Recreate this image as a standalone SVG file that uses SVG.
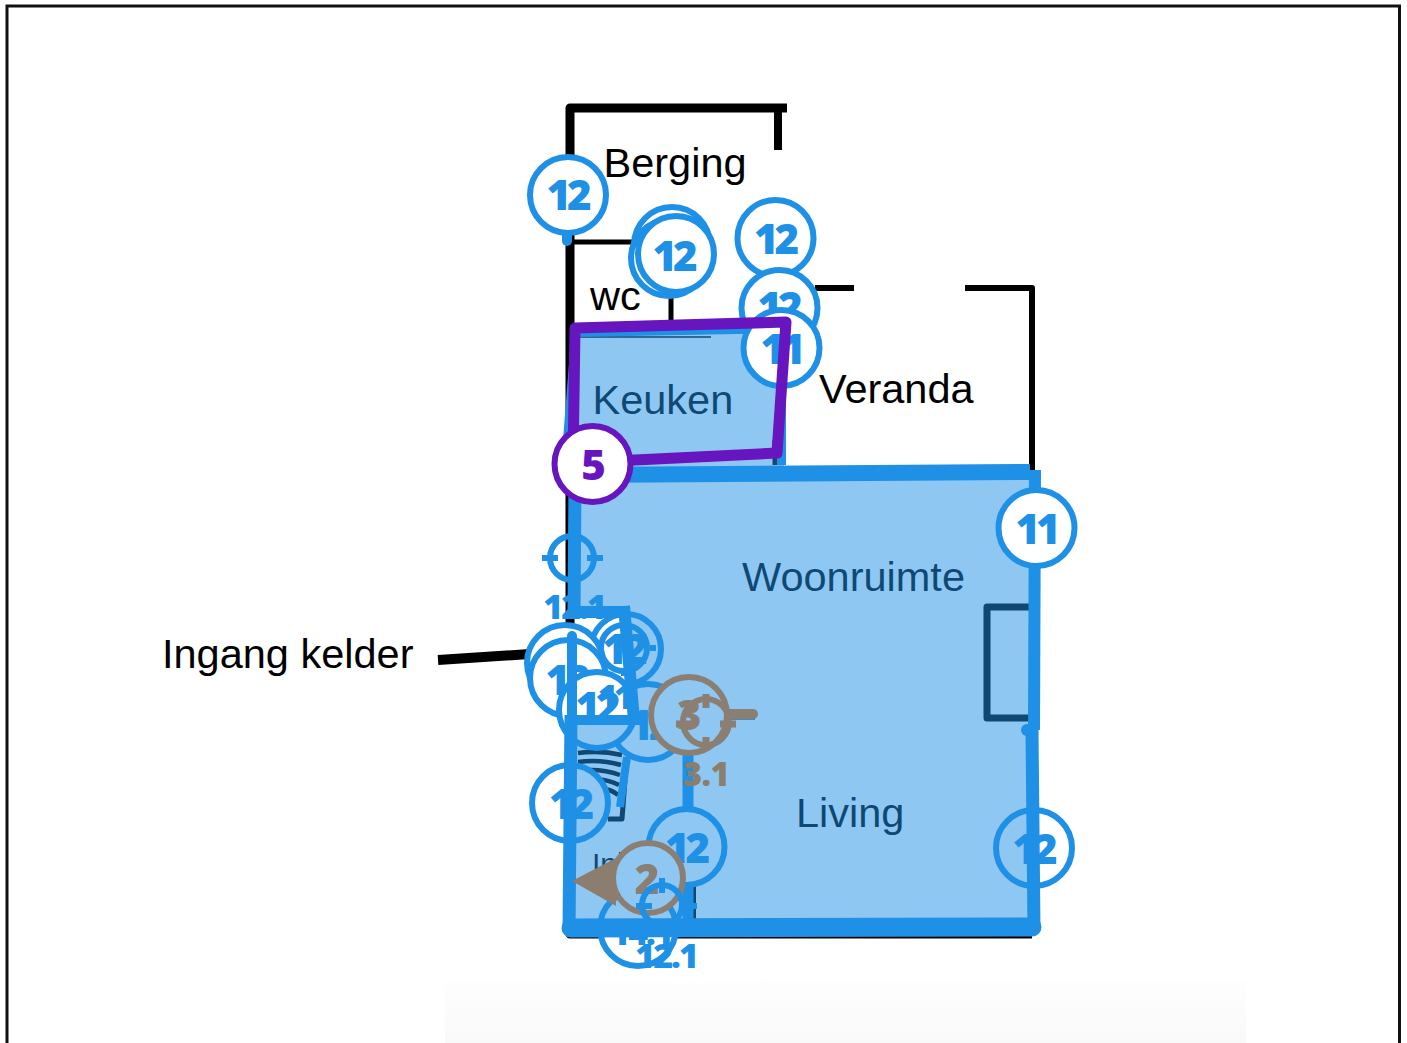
<svg xmlns="http://www.w3.org/2000/svg" width="1407" height="1043" viewBox="0 0 1407 1043">
<style>
.lbl{font-family:"Liberation Sans",Arial,sans-serif;font-size:41.500px;fill:#000}
.c{fill:#fff;stroke:#1e90e6;stroke-width:6}
.o{fill:#fff;stroke:#f86c00;stroke-width:6}
.p{fill:#fff;stroke:#6715bf;stroke-width:6}
.n{font-family:"Open Sans",sans-serif;font-weight:800;font-size:42px;letter-spacing:-4px;text-anchor:middle;fill:#1e90e6}
.no{font-family:"Open Sans",sans-serif;font-weight:800;font-size:42px;text-anchor:middle;fill:#f86c00}
.s{font-family:"Open Sans",sans-serif;font-weight:800;font-size:34px;letter-spacing:-2px;text-anchor:middle;fill:#1e90e6}
.so{font-family:"Open Sans",sans-serif;font-weight:800;font-size:33px;letter-spacing:-.500px;text-anchor:middle;fill:#8b7e6e}
.w{fill:none;stroke:#000;stroke-linejoin:round}
.bl{fill:none;stroke:#1e90e6;stroke-linejoin:round}
.t{fill:none;stroke:#1e90e6;stroke-width:6}
.to{fill:none;stroke:#f86c00;stroke-width:6}
</style>
<defs>
<linearGradient id="fade" x1="0" y1="0" x2="0" y2="1"><stop offset="0" stop-color="#fefefe"/><stop offset="1" stop-color="#f9f9f9"/></linearGradient>
</defs>
<rect width="1407" height="1043" fill="#fff"/>
<rect x="445" y="980" width="801" height="63" fill="url(#fade)"/>
<path d="M7 1043V6H1399.500V1043" fill="none" stroke="#111" stroke-width="3"/>
<g id="plan">
<path class="w" stroke-width="9" d="M787 108H570V934H1032"/>
<path class="w" stroke-width="8" d="M778 108V150"/>
<path class="w" stroke-width="6" d="M815 288H854M965 288H1032V470"/>
<path class="w" stroke-width="5" d="M570 242H640M671 296V325M775 440V465"/>
<path class="w" stroke-width="1.500" d="M580 337H711"/>
<path class="w" stroke-width="6" d="M693 885V925"/>
<path class="w" stroke-width="7" d="M1030 607H987V718H1030"/>
<path class="w" stroke-width="4.500" d="M578 753Q600 750 622 755M578 762Q600 759 621 765M578 771Q600 768 620 775M590 780Q605 778 619 785M600 789Q610 788 618 795"/>
<path class="w" stroke-width="5" d="M625 780L622 819H608"/>
<path class="w" stroke-width="10" d="M438 660L530 654"/>
<path class="w" stroke-width="5" d="M725 717H755"/>
<path class="bl" stroke-width="11" d="M688 752V925"/>
<text class="lbl" x="603.500" y="177">Berging</text>
<text class="lbl" x="590" y="310">wc</text>
<text class="lbl" x="819" y="403">Veranda</text>
<text class="lbl" x="592.500" y="414">Keuken</text>
<text class="lbl" x="742" y="591">Woonruimte</text>
<text class="lbl" x="796" y="827">Living</text>
<text class="lbl" x="162" y="668">Ingang kelder</text>
<text class="lbl" x="592" y="874" style="font-size:30px">Inkom</text>
</g>
<g id="n12a"><path class="bl" stroke-width="10" stroke-linecap="round" d="M567 232V241"/><circle class="c" cx="568" cy="195" r="38"/><text class="n" x="567" y="210">12</text></g>
<g id="n12b"><circle class="c" cx="672" cy="245" r="38"/><circle class="c" cx="669" cy="258" r="38"/><circle class="c" cx="676" cy="254" r="38"/><text class="n" x="673" y="271">12</text></g>
<g id="n12c"><circle class="c" cx="775.500" cy="238" r="38"/><text class="n" x="774.500" y="254">12</text></g>
<g id="n12d"><circle class="c" cx="779.500" cy="308" r="38"/><text class="n" x="778" y="322">12</text></g>
<g id="n12e"><circle class="c" cx="648" cy="722" r="38"/><text class="n" x="649" y="740">12</text></g>
<g id="n12f"><circle class="c" cx="626" cy="649" r="35"/><text class="n" x="623" y="664">12</text></g>
<g id="n12g"><circle class="c" cx="565" cy="663" r="38"/><circle class="c" cx="568" cy="678" r="38"/><text class="n" x="566" y="695">12</text></g>
<g id="n12h"><circle class="c" cx="597" cy="710" r="38"/><text class="n" x="596" y="722">12</text></g>
<text class="n" x="614" y="709" style="font-size:34px">11</text>
<g id="n12i"><circle class="c" cx="570" cy="803" r="38"/><text class="n" x="569.500" y="819">12</text></g>
<g id="n12j"><circle class="c" cx="686.500" cy="847" r="38"/><text class="n" x="685.500" y="863">12</text></g>
<g id="n12k"><circle class="c" cx="1034" cy="848" r="38"/><text class="n" x="1033" y="864">12</text></g>
<g id="n14"><circle class="c" cx="638" cy="928" r="38"/><text class="s" x="641" y="945">14.1</text></g>
<g id="t121a"><circle class="t" cx="572" cy="558" r="22"/><path class="t" d="M542 558H558M587 558H603"/><text class="s" x="574" y="619">12.1</text></g>
<g id="t121b"><circle class="t" cx="624" cy="648" r="23"/><path class="t" d="M650 648H656M624 671V676"/></g>
<g id="n3"><path class="to" style="stroke-width:10" stroke-linecap="round" d="M725 714H753"/><circle class="o" cx="689" cy="715" r="38"/><text class="no" x="689" y="730">3</text></g>
<g id="t31"><circle class="to" cx="706" cy="722" r="23"/><path class="to" style="stroke-width:7" d="M706 694V708M706 737V751M676 724H692M720 724H736"/></g>
<g id="n2"><circle class="o" cx="648" cy="878" r="35"/><text class="no" x="647" y="894">2</text></g>
<g id="t121c"><circle class="t" cx="662" cy="905" r="20"/><path class="t" d="M636 906H652M682 906H697M662 878V893"/></g>
<g id="connectors">
<path fill="#1e90e6" fill-opacity=".5" d="M575 473L1030 471L1034 930L569 930L570 720L636 720L622 612L572 612ZM574 330L786 325L784 466L572 472Z"/>
<path class="bl" stroke-width="16" d="M1030 472L575 475"/>
<path class="bl" stroke-width="13" d="M575 480L574 612"/>
<path class="bl" stroke-width="12" d="M568 612H622"/>
<path class="bl" stroke-width="10" stroke-linecap="round" d="M572 636V720"/>
<path class="bl" stroke-width="12" d="M624 606L634 720"/>
<path class="bl" stroke-width="10" d="M566 720H640"/>
<path class="bl" stroke-width="13" d="M571 715L569 930"/>
<path class="bl" stroke-width="19" stroke-linecap="round" d="M571 928L1032 927"/>
<path class="bl" stroke-width="12" d="M1035 470L1034 730"/>
<path class="bl" stroke-width="13" d="M1032 730L1034 930"/>
<circle cx="1027" cy="730" r="6" fill="#1e90e6"/>
<path class="bl" stroke-width="8" d="M627 757L620 807"/>
<path class="bl" stroke-width="6" d="M573 334L786 330"/>
<path class="bl" stroke-width="8" d="M782 325L782 465"/>
<path fill="#1e90e6" d="M570 350L563 440L576 440L576 350Z"/>
</g>
<text id="l31" class="so" x="706" y="786">3.1</text>
<text id="l121" class="s" x="666" y="968">12.1</text>
<path id="arrow" fill="#8b7e6e" d="M572 881L616 858V906Z"/>
<g id="n11a"><circle class="c" cx="781.500" cy="348" r="38"/><text class="n" x="781" y="364">11</text></g>
<g id="n11b"><circle class="c" cx="1036.500" cy="528" r="38"/><text class="n" x="1036" y="544">11</text></g>
<path id="area5" fill="none" stroke="#6715bf" stroke-width="11" stroke-linejoin="round" d="M575 328L786 322L777 453L573 463Z"/>
<g id="n5"><circle class="p" cx="592.500" cy="464" r="38"/><text class="n" x="591.500" y="480" style="fill:#6715bf">5</text></g>
</svg>
